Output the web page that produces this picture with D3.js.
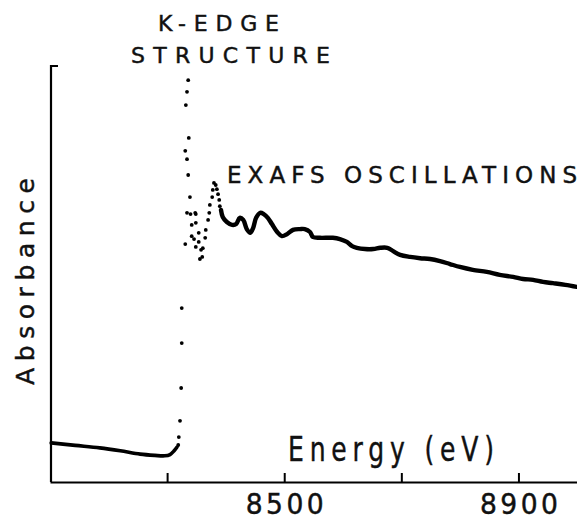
<!DOCTYPE html>
<html>
<head>
<meta charset="utf-8">
<script src="https://cdn.jsdelivr.net/npm/d3@7"></script>
<style>
  html, body { margin: 0; padding: 0; background: #fff; }
  svg { display: block; }
  text { font-family: "DejaVu Sans", "Liberation Sans", sans-serif; fill: #111; stroke: #111; stroke-width: 0.45; }
</style>
</head>
<body>
<svg id="chart" width="577" height="521"></svg>
<script>
// Pre-edge absorption, continuous trace (energy eV, absorbance a.u.)
const preEdgeEnergy = [8102, 8143, 8185, 8220, 8254, 8279, 8296, 8305, 8312, 8317];
const preEdgeAbs    = [0.094, 0.088, 0.082, 0.075, 0.067, 0.064, 0.063, 0.066, 0.075, 0.084];

// K-edge region, sparse plotted points
const edgeEnergy = [8319, 8320, 8322, 8324, 8325, 8325, 8334, 8331, 8337, 8332, 8334, 8336, 8336, 8339,
                    8334, 8348, 8340, 8349, 8342, 8349, 8354, 8342, 8346, 8354, 8331, 8349, 8358, 8360, 8356,
                    8361, 8365, 8366, 8370, 8372, 8373, 8377, 8378, 8380, 8383, 8385, 8387, 8389, 8390];
const edgeAbs    = [0.089, 0.108, 0.147, 0.226, 0.334, 0.418, 0.776, 0.796, 0.827, 0.906, 0.938, 0.966, 0.738, 0.685,
                    0.647, 0.647, 0.644, 0.644, 0.618, 0.623, 0.599, 0.591, 0.584, 0.577, 0.572, 0.565, 0.558, 0.541, 0.536,
                    0.562, 0.587, 0.606, 0.630, 0.647, 0.666, 0.685, 0.702, 0.719, 0.714, 0.704, 0.692, 0.678, 0.663];

// EXAFS region, continuous trace
const exafsEnergy = [8392, 8395, 8402, 8411, 8418, 8424, 8430, 8436, 8442, 8447, 8452, 8459, 8465, 8472, 8479,
                     8488, 8496, 8505, 8515, 8527, 8535, 8544, 8549, 8561, 8583, 8595, 8607, 8616, 8624, 8638,
                     8652, 8664, 8676, 8686, 8698, 8715, 8732, 8749, 8766, 8783, 8800, 8822, 8846, 8868, 8891,
                     8908, 8925, 8942, 8959, 8980, 9000];
const exafsAbs    = [0.654, 0.637, 0.625, 0.618, 0.620, 0.635, 0.630, 0.608, 0.599, 0.611, 0.635, 0.647, 0.644, 0.635, 0.620,
                     0.601, 0.591, 0.596, 0.606, 0.608, 0.608, 0.601, 0.589, 0.587, 0.587, 0.584, 0.577, 0.567, 0.563, 0.560,
                     0.560, 0.563, 0.563, 0.555, 0.546, 0.541, 0.538, 0.536, 0.531, 0.524, 0.517, 0.510, 0.505, 0.498, 0.493,
                     0.488, 0.486, 0.481, 0.478, 0.474, 0.469];

const tickValues = [8300, 8500, 8700, 8900];
const tickLabels = ["", "8500", "", "8900"];

const svg = d3.select("#chart");
const x = d3.scaleLinear().domain([8100, 9000]).range([50, 577]);
const y = d3.scaleLinear().domain([0, 1]).range([482, 66]);

const zip = (xs, ys) => xs.map((e, i) => [e, ys[i]]);
const line = d3.line().x(d => x(d[0])).y(d => y(d[1])).curve(d3.curveCatmullRom.alpha(0.5));

// Plotter-style lettering: fixed run length, optional horizontal squeeze
function plotText(parent, str, tx, ty, width, size, sx, rotate) {
  const g = parent.append("g")
    .attr("transform", `translate(${tx},${ty})` + (rotate ? ` rotate(${rotate})` : "") + ` scale(${sx},1)`);
  g.append("text")
    .attr("x", 0).attr("y", 0)
    .attr("font-size", size)
    .attr("textLength", width / sx)
    .attr("lengthAdjust", "spacing")
    .text(str);
  return g;
}

// Horizontal axis, ticks pointing inward
const TICK_SX = 0.95;
const xAxis = d3.axisBottom(x)
  .tickValues(tickValues)
  .tickFormat((d, i) => tickLabels[i])
  .tickSizeInner(-9)
  .tickSizeOuter(0);

const gx = svg.append("g").attr("transform", `translate(0,${y(0)})`).call(xAxis);
gx.select(".domain").attr("stroke", "#000").attr("stroke-width", 2.2);
gx.selectAll(".tick line").attr("stroke", "#000").attr("stroke-width", 2);
gx.selectAll(".tick text")
  .attr("y", 32).attr("dy", 0)
  .attr("font-size", 28)
  .attr("font-family", "DejaVu Sans")
  .attr("fill", "#111")
  .attr("transform", `scale(${TICK_SX},1)`)
  .attr("textLength", (d, i) => tickLabels[i] ? 78 / TICK_SX : null)
  .attr("lengthAdjust", "spacing");

// Vertical axis with a short cap at the top
const yAxisPath = d3.path();
yAxisPath.moveTo(58, y(1));
yAxisPath.lineTo(x(8100) + 1, y(1));
yAxisPath.lineTo(x(8100) + 1, y(0));
svg.append("path")
  .attr("d", yAxisPath.toString())
  .attr("fill", "none").attr("stroke", "#000").attr("stroke-width", 2.2);

// Traces
svg.append("path").datum(zip(preEdgeEnergy, preEdgeAbs))
  .attr("d", line).attr("fill", "none").attr("stroke", "#000")
  .attr("stroke-width", 3.6).attr("stroke-linecap", "round");

svg.append("path").datum(zip(exafsEnergy, exafsAbs))
  .attr("d", line).attr("fill", "none").attr("stroke", "#000")
  .attr("stroke-width", 4.4).attr("stroke-linecap", "round").attr("stroke-linejoin", "round");

svg.append("g").selectAll("circle")
  .data(zip(edgeEnergy, edgeAbs))
  .join("circle")
  .attr("cx", d => x(d[0])).attr("cy", d => y(d[1]))
  .attr("r", 1.9).attr("fill", "#000");

// Labels
plotText(svg, "K-EDGE", 158, 31, 121, 22, 1.0);
plotText(svg, "STRUCTURE", 131, 63, 199, 22, 1.0);
plotText(svg, "EXAFS OSCILLATIONS", 227, 183, 350, 23, 1.0);
plotText(svg, "Energy (eV)", 288, 461, 206, 33, 0.76);
plotText(svg, "Absorbance", 34, 385, 207, 25, 1.0, -90);
</script>
</body>
</html>
